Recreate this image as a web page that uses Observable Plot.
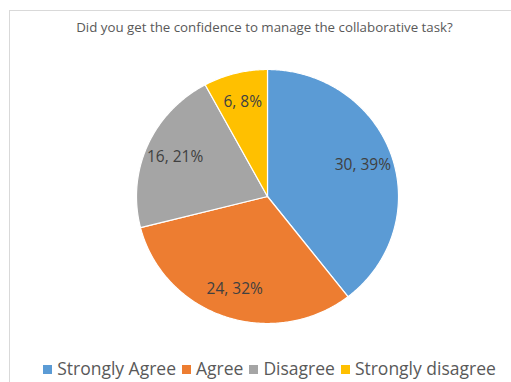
<!DOCTYPE html>
<html>
<head>
<meta charset="utf-8">
<script src="https://cdn.jsdelivr.net/npm/d3@7"></script>
<script src="https://cdn.jsdelivr.net/npm/@observablehq/plot@0.6"></script>
<style>
  html, body { margin: 0; padding: 0; background: #fff; }
  #wrap { position: relative; width: 511px; height: 382px; overflow: hidden; font-family: "Open Sans", sans-serif; }
  #frame { position: absolute; left: 9px; top: 10px; width: 520px; height: 400px; border-top: 1px solid #d9d9d9; border-left: 1px solid #d9d9d9; }
  #title { position: absolute; left: 18px; right: 0; top: 18px; text-align: center; font-size: 13.3px; color: #595959; }
  #chart { position: absolute; left: 0; top: 0; }
  #legend { position: absolute; left: 34px; right: 0; top: 356px; text-align: center; font-size: 17.5px; color: #595959; white-space: nowrap; }
  .sw { display: inline-block; width: 9px; height: 9px; margin-right: 5px; vertical-align: 1px; }
  .it { margin-right: 6px; }
</style>
</head>
<body>
<div id="wrap">
  <div id="frame"></div>
  <div id="chart"></div>
  <div id="title"></div>
  <div id="legend"></div>
</div>
<script>
const title = "Did you get the confidence to manage the collaborative task?";
const categories = ["Strongly Agree", "Agree", "Disagree", "Strongly disagree"];
const counts = [30, 24, 16, 6];
const percents = ["39%", "32%", "21%", "8%"];
const colors = ["#5b9bd5", "#ed7d31", "#a5a5a5", "#ffc000"];

const total = d3.sum(counts);
const slices = [];
const labels = [];
let acc = 0;
categories.forEach((c, i) => {
  const a0 = acc / total * 2 * Math.PI;
  acc += counts[i];
  const a1 = acc / total * 2 * Math.PI;
  slices.push({cat: c, x: 0, y: 0});
  const n = Math.max(2, Math.ceil((a1 - a0) / 0.01));
  for (let k = 0; k <= n; k++) {
    const a = a0 + (a1 - a0) * k / n;
    slices.push({cat: c, x: Math.sin(a), y: Math.cos(a)});
  }
  slices.push({cat: c, x: 0, y: 0});
  const am = (a0 + a1) / 2;
  const r = 0.77;
  labels.push({cat: c, x: r * Math.sin(am), y: r * Math.cos(am), text: counts[i] + ", " + percents[i]});
});

// pixel geometry of the pie: center (267,196), radii 131 x 127
const W = 511, H = 382, cx = 267, cy = 196, rx = 131, ry = 127;
const chart = Plot.plot({
  width: W,
  height: H,
  margin: 0,
  x: {domain: [-cx / rx, (W - cx) / rx], axis: null},
  y: {domain: [-(H - cy) / ry, cy / ry], axis: null},
  color: {domain: categories, range: colors},
  style: {background: "transparent"},
  marks: [
    Plot.line(slices, {x: "x", y: "y", z: "cat", fill: "cat", stroke: "white", strokeWidth: 1.2, strokeLinejoin: "round"}),
    Plot.text(labels, {x: "x", y: "y", text: "text", fill: "#404040", fontSize: 15.5, fontFamily: "Open Sans, sans-serif"})
  ]
});
document.getElementById("chart").appendChild(chart);
document.getElementById("title").textContent = title;

const leg = document.getElementById("legend");
categories.forEach((c, i) => {
  const it = document.createElement("span");
  it.className = "it";
  const sw = document.createElement("span");
  sw.className = "sw";
  sw.style.background = colors[i];
  it.appendChild(sw);
  it.appendChild(document.createTextNode(c));
  leg.appendChild(it);
});
</script>
</body>
</html>
